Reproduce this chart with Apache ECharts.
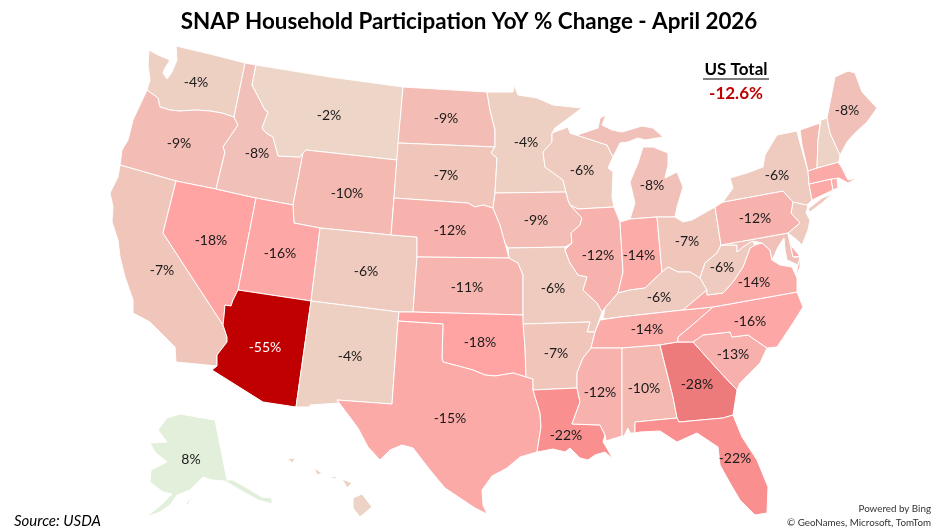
<!DOCTYPE html>
<html><head><meta charset="utf-8">
<style>html,body{margin:0;padding:0;background:#fff}#c{width:939px;height:530px}</style>
<script src="https://cdn.jsdelivr.net/npm/echarts@6/dist/echarts.min.js"></script>
</head><body><div id="c"></div>
<script>
const states = ['WA','OR','CA','NV','ID','MT','WY','UT','AZ','CO','NM','ND','SD','NE','KS','OK','TX','MN','IA','MO','AR','LA','WI','IL','MI','IN','OH','KY','TN','MS','AL','GA','FL','SC','NC','VA','WV','MD','DE','NJ','PA','NY','CT','RI','MA','VT','NH','ME','AK','HI'];
const values = [-4,-9,-7,-18,-8,-2,-10,-16,-55,-6,-4,-9,-7,-12,-11,-18,-15,-4,-9,-6,-7,-22,-6,-12,-8,-14,-7,-6,-14,-12,-10,-28,-22,-13,-16,-14,-6,-8,-13,-6,-12,-6,-15,-12,-15,-10,-3,-8,8,-3];
const unlabelled = ['MD','DE','NJ','CT','RI','MA','VT','NH','HI'];
const colorSteps = [[-55,'#C00000'],[-28,'#EE7B7B'],[-22,'#F98F8F'],[-18,'#FFA3A3'],[-16,'#FDA8A6'],[-15,'#FBAAA7'],[-14,'#FBACA9'],[-13,'#F7B0AC'],[-12,'#F8B2AD'],[-11,'#F6B6AF'],[-10,'#F4BAB2'],[-9,'#F3BDB5'],[-8,'#F1C0B8'],[-7,'#F0C6BB'],[-6,'#EFCABE'],[-4,'#EED0C3'],[-3,'#EDD3C5'],[-2,'#EDD6C7'],[8,'#E2EFDA']];
const titleText = 'SNAP Household Participation YoY % Change - April 2026';

// Map geometry: state outlines in the drawing's own plane, and a label anchor for each state.
const outlines = {
WA:[[[149,50],[158,55],[170,60],[165,68],[163,73],[167,79],[172,72],[177,60],[176,46],[210,54],[245,63],[234,117],[222,113],[210,111],[195,110],[180,111],[170,110],[160,107],[158,98],[147,90],[150,80],[148,65]]],
OR:[[[147,90],[158,98],[160,107],[170,110],[180,111],[195,110],[210,111],[222,113],[234,117],[238,125],[223,147],[225,152],[216,189],[176,181],[120,165],[122,150],[128,140],[133,120]]],
CA:[[[120,165],[176,181],[163,233],[223,325],[227,337],[227,342],[217,355],[217,366],[176,362],[175,347],[168,340],[150,322],[133,313],[133,300],[125,277],[120,257],[118,240],[112,222],[113,207],[110,193],[118,177]]],
NV:[[[176,181],[216,189],[256,198],[238,290],[233,300],[231,306],[225,305],[224,316],[223,325],[163,233]]],
ID:[[[245,63],[256,65],[252,85],[265,110],[268,112],[262,128],[266,133],[273,137],[278,156],[300,157],[303,153],[293,205],[256,198],[216,189],[225,152],[223,147],[238,125],[234,117]]],
MT:[[[256,65],[330,77],[403,87],[397,160],[306,150],[303,153],[300,157],[278,156],[273,137],[266,133],[262,128],[268,112],[265,110],[252,85]]],
WY:[[[306,150],[397,160],[391,235],[320,228],[294,223],[293,205],[303,153]]],
UT:[[[256,198],[293,205],[294,223],[320,228],[311,301],[238,290]]],
AZ:[[[238,290],[233,300],[231,306],[225,305],[224,316],[223,325],[227,337],[227,342],[217,355],[217,366],[212,370],[263,402],[296,407],[311,301]]],
CO:[[[320,228],[391,235],[417,237],[417,257],[413,312],[399,312],[311,301]]],
NM:[[[311,301],[399,312],[398,321],[392,404],[337,400],[339,403],[310,405],[310,407],[296,407]]],
ND:[[[403,87],[487,92],[490,110],[495,130],[495,147],[398,143]]],
SD:[[[398,143],[495,147],[491,153],[497,158],[495,193],[493,208],[483,205],[475,207],[468,203],[394,198]]],
NE:[[[394,198],[468,203],[475,207],[483,205],[493,208],[500,225],[505,243],[509,258],[417,257],[417,237],[391,235]]],
KS:[[[417,257],[509,258],[518,263],[523,275],[523,315],[413,312]]],
OK:[[[399,312],[413,312],[523,315],[525,347],[526,377],[513,373],[495,376],[485,375],[473,370],[462,367],[443,362],[442,358],[443,324],[398,321]]],
TX:[[[398,321],[443,324],[442,358],[443,362],[462,367],[473,370],[485,375],[495,376],[513,373],[526,377],[533,379],[533,390],[540,413],[541,427],[537,452],[520,457],[507,468],[492,476],[482,490],[483,505],[487,514],[475,508],[460,498],[445,488],[430,470],[413,448],[402,445],[390,450],[380,460],[368,447],[358,428],[337,400],[392,404]]],
MN:[[[487,92],[513,92],[514,85],[518,95],[537,98],[553,105],[582,108],[555,128],[552,133],[552,142],[543,152],[545,167],[563,180],[566,192],[495,193],[497,158],[491,153],[495,147],[495,130],[490,110]]],
IA:[[[495,193],[566,192],[568,200],[570,205],[582,218],[580,225],[571,233],[572,243],[565,247],[508,248],[505,243],[500,225],[493,208]]],
MO:[[[508,248],[565,247],[565,250],[570,263],[578,275],[587,277],[583,290],[597,303],[602,312],[600,318],[595,332],[587,332],[590,322],[523,324],[523,275],[518,263],[509,258]]],
AR:[[[523,324],[590,322],[587,332],[595,332],[591,348],[583,358],[577,373],[577,388],[533,390],[533,379],[526,377],[525,347]]],
LA:[[[533,390],[577,388],[580,402],[572,424],[600,425],[605,435],[603,442],[605,445],[613,459],[605,452],[595,455],[588,460],[580,458],[570,448],[565,452],[553,449],[537,452],[541,427],[540,413]]],
WI:[[[552,133],[568,127],[570,133],[577,135],[607,145],[613,157],[608,168],[613,172],[612,197],[614,207],[578,209],[570,205],[568,200],[566,192],[563,180],[545,167],[543,152],[552,142]]],
IL:[[[578,209],[614,207],[620,222],[623,272],[618,293],[605,308],[602,312],[597,303],[583,290],[587,277],[578,275],[570,263],[565,250],[572,243],[571,233],[580,225],[582,218],[570,205]]],
MI:[[[570,133],[577,135],[598,128],[600,118],[606,115],[602,125],[612,130],[622,132],[642,126],[653,128],[663,137],[645,140],[638,138],[628,142],[620,143],[613,157],[607,145]],[[643,147],[653,147],[668,153],[668,165],[665,178],[677,172],[683,187],[677,207],[675,217],[657,217],[630,219],[635,203],[630,182],[638,163]]],
IN:[[[620,222],[630,219],[657,217],[662,272],[645,288],[630,290],[618,293],[623,272]]],
OH:[[[657,217],[675,217],[683,222],[692,220],[715,207],[721,245],[717,253],[705,263],[700,278],[690,272],[678,272],[668,267],[662,272]]],
KY:[[[603,319],[605,308],[618,293],[630,290],[645,288],[662,272],[668,267],[678,272],[690,272],[700,278],[707,290],[683,310],[620,317]]],
TN:[[[600,320],[620,317],[683,310],[713,307],[690,327],[678,337],[678,342],[660,345],[622,348],[591,348],[595,332]]],
MS:[[[591,348],[622,348],[622,436],[606,441],[605,435],[600,425],[572,424],[580,402],[577,388],[577,373],[583,358]]],
AL:[[[622,348],[660,345],[673,397],[677,418],[635,422],[635,433],[630,433],[628,428],[624,436],[622,436]]],
GA:[[[660,345],[678,342],[693,342],[702,352],[720,372],[737,390],[733,415],[723,418],[679,422],[677,418],[673,397]]],
FL:[[[635,422],[677,418],[679,422],[723,418],[733,415],[742,437],[757,460],[768,487],[767,513],[755,515],[740,500],[730,483],[720,465],[718,447],[697,433],[677,442],[660,431],[640,432],[635,433]]],
SC:[[[693,342],[703,335],[730,332],[732,337],[748,335],[767,348],[760,363],[740,383],[737,390],[720,372],[702,352]]],
NC:[[[678,342],[678,337],[690,327],[713,307],[797,292],[803,307],[793,323],[777,347],[767,348],[748,335],[732,337],[730,332],[703,335],[693,342]]],
VA:[[[683,310],[707,290],[707,295],[723,293],[733,282],[743,267],[750,248],[755,245],[762,243],[770,250],[772,260],[780,265],[792,267],[797,278],[797,292],[713,307]],[[798,265],[800,257],[800,267],[796,275]]],
WV:[[[721,245],[737,245],[737,252],[743,247],[752,241],[755,245],[750,248],[743,267],[733,282],[723,293],[707,295],[707,290],[700,278],[705,263],[717,253]]],
MD:[[[721,245],[788,233],[793,257],[800,257],[798,265],[787,260],[785,250],[784,238],[778,247],[774,256],[772,260],[770,250],[762,243],[752,241],[743,247],[737,252],[737,245]]],
DE:[[[788,233],[792,247],[800,256],[793,257]]],
NJ:[[[793,202],[808,205],[806,213],[810,220],[808,230],[802,245],[797,240],[788,233],[800,223],[791,213]]],
PA:[[[715,207],[723,202],[783,191],[793,202],[791,213],[800,223],[788,233],[721,245]]],
NY:[[[723,202],[733,188],[730,178],[747,173],[763,167],[765,155],[777,135],[797,131],[800,143],[808,171],[809,184],[812,200],[807,205],[793,202],[783,191]],[[808,209],[822,198],[832,194],[822,203],[810,212]]],
CT:[[[809,184],[831,179],[833,190],[812,200]]],
RI:[[[831,179],[837,178],[838,188],[833,190]]],
MA:[[[808,171],[817,168],[838,162],[842,168],[848,180],[857,178],[848,183],[839,178],[831,179],[809,184]]],
VT:[[[800,130],[820,123],[818,140],[817,168],[808,171],[802,145]]],
NH:[[[821,120],[827,118],[830,133],[840,155],[839,162],[817,168],[818,140]]],
ME:[[[827,118],[835,77],[848,71],[855,73],[862,92],[877,108],[867,122],[855,133],[847,142],[840,155],[830,133]]],
AK:[[[180,414],[197,417],[215,420],[227,480],[233,480],[247,488],[262,497],[272,498],[272,504],[258,500],[240,490],[225,481],[212,480],[203,477],[195,485],[190,490],[177,495],[170,505],[160,512],[146,517],[160,506],[172,494],[163,492],[150,482],[151,470],[167,462],[155,452],[150,443],[167,442],[158,430],[167,418]],[[186,503],[192,497],[188,505]]],
HI:[[[353,498],[362,494],[372,507],[360,517],[353,508]],[[342,479],[352,483],[347,488]],[[330,476],[338,477],[334,479]],[[314,468],[322,473],[317,475]],[[287,459],[295,458],[293,463]]]
};
const anchors = {WA:[196,82],OR:[179,143],CA:[162,270],NV:[211,240],ID:[257,153],MT:[329,115],WY:[347,193],UT:[280,253],AZ:[265,347],CO:[366,271],NM:[350,356],ND:[446,118],SD:[446,175],NE:[450,230],KS:[467,287],OK:[480,342],TX:[450,418],MN:[526,142],IA:[536,220],MO:[553,288],AR:[556,353],LA:[566,435],WI:[582,170],IL:[598,255],MI:[652,185],IN:[639,255],OH:[687,241],KY:[659,297],TN:[647,329],MS:[600,392],AL:[644,388],GA:[697,384],FL:[735,458],SC:[733,354],NC:[750,321],VA:[754,282],WV:[722,267],PA:[755,218],NY:[777,175],ME:[847,110],AK:[191,459],MD:[760,248],DE:[795,248],NJ:[800,222],CT:[820,190],RI:[835,184],MA:[825,175],VT:[810,150],NH:[828,150],HI:[360,505]};

const geoJson = {type:'FeatureCollection',features:states.map(s=>({type:'Feature',properties:{name:s,cp:anchors[s]},geometry:{type:'MultiPolygon',coordinates:outlines[s].map(r=>[r])}}))};
echarts.registerMap('usa',geoJson);
const FONT='Lato, "Open Sans", sans-serif';
const chart=echarts.init(document.getElementById('c'),null,{renderer:'canvas'});
const txt=(text,x,y,size,color,weight,align,style)=>({type:'text',silent:true,style:{text,x,y,fill:color,font:`${style||'normal'} ${weight||'normal'} ${size}px ${FONT}`,align:align||'left',verticalAlign:'middle'}});
chart.setOption({
 animation:false,backgroundColor:'#fff',
 visualMap:{show:false,type:'piecewise',seriesIndex:0,pieces:colorSteps.map(([value,color])=>({value,color}))},
 series:[{type:'map',map:'usa',silent:true,
  projection:{project:p=>p,unproject:p=>p},
  boundingCoords:[[0,0],[939,530]],left:0,top:0,width:939,height:530,
  itemStyle:{borderColor:'#fff',borderWidth:1},
  label:{show:true,fontFamily:FONT,fontSize:14,color:'#1a1a1a',formatter:p=>p.value+'%'},
  emphasis:{disabled:true},select:{disabled:true},
  data:states.map((name,i)=>({name,value:values[i],
    label:unlabelled.includes(name)?{show:false}:(values[i]===-55?{color:'#fff'}:{})}))
 }],
 graphic:[
  txt(titleText,469,22,22.4,'#000','bold','center'),
  txt('US Total',736,70,17,'#000','bold','center'),
  {type:'line',silent:true,shape:{x1:703,y1:79,x2:769,y2:79},style:{stroke:'#000',lineWidth:1.2}},
  txt('-12.6%',736,94,17,'#C00000','bold','center'),
  txt('Source: USDA',14,521,15,'#000','normal','left','italic'),
  txt('Powered by Bing',931,509,9.8,'#333','normal','right'),
  txt('© GeoNames, Microsoft, TomTom',931,523,9.8,'#333','normal','right')
 ]
});
</script></body></html>
